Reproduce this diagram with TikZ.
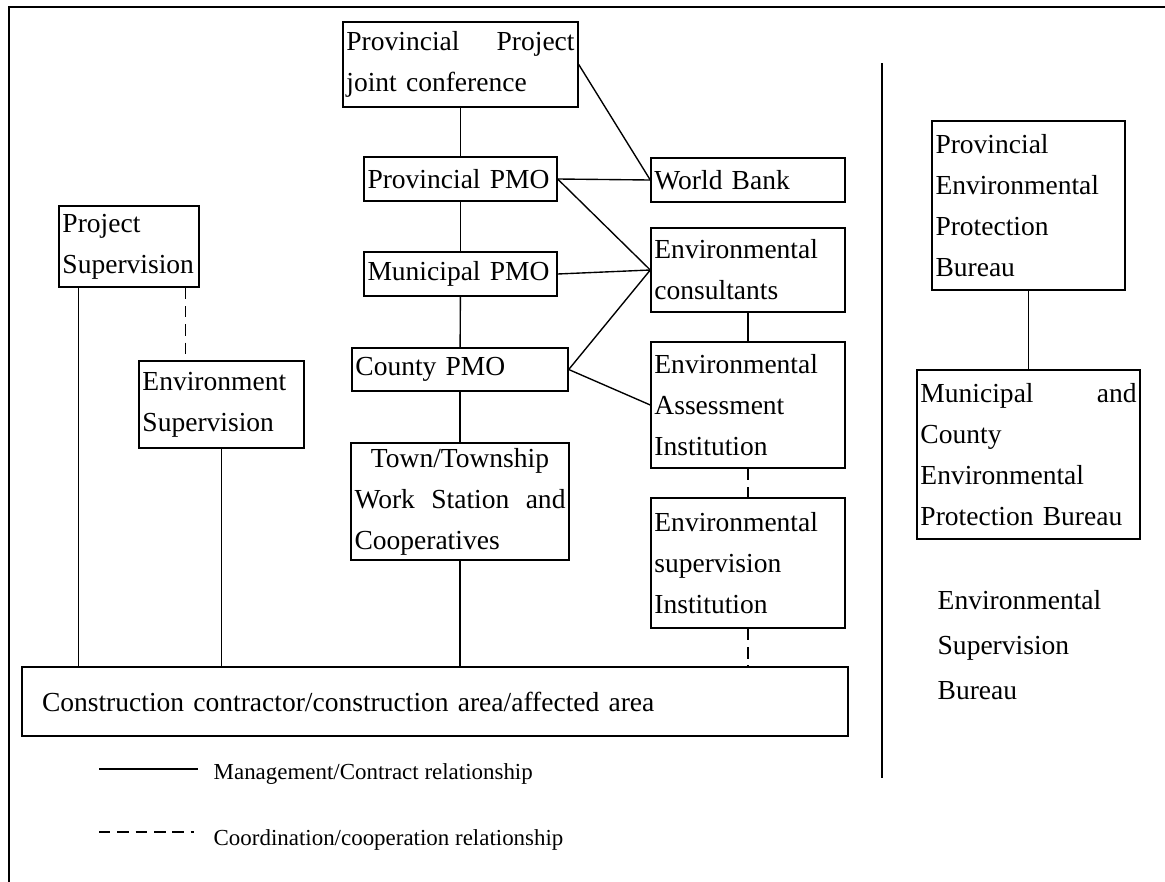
\documentclass[tikz,border=0pt]{standalone}
\usepackage{fontspec}
\setmainfont{Liberation Serif}
\tikzset{
    unit/.style={draw, line width=0.6pt, align=left, inner xsep=1.5pt, inner ysep=0pt,
        font=\fontsize{12}{17.9}\selectfont},
    coop/.style={dash pattern=on 5pt off 3pt},
    keytext/.style={anchor=west, inner sep=0pt, font=\fontsize{10}{12}\selectfont},
}
\begin{document}
\begin{tikzpicture}[x=0.436pt, y=-0.436pt, line width=0.6pt]
        \useasboundingbox (0,0) rectangle (1165,882);
        % frame and separator
        \draw (1165,7) -- (9,7) -- (9,882);
        \draw (882,63) -- (882,778);
        \begin{scope}[every node/.style={unit}]
            \node[minimum width=102.5pt, minimum height=37.1pt, text width=99.5pt] (conf) at (460.5, 64.5) {Provincial\hfill Project\\joint conference};
            \node[minimum width=84.1pt, minimum height=19.2pt, text width=81.1pt] (ppmo) at (460.5, 179) {Provincial PMO};
            \node[minimum width=84.1pt, minimum height=19.2pt, text width=81.1pt] (mpmo) at (460.5, 274) {Municipal PMO};
            \node[minimum width=94.2pt, minimum height=18.7pt, text width=91.2pt] (cpmo) at (460, 369.5) {County PMO};
            \node[minimum width=95pt, minimum height=51pt, text width=92pt] (town) at (460, 501.5) {\hfill Town/Township\hfill\null\\Work\hfill Station\hfill and\\Cooperatives};
            \node[minimum width=84.6pt, minimum height=19.2pt, text width=81.6pt] (wb) at (748, 180) {World Bank};
            \node[minimum width=84.6pt, minimum height=36.6pt, text width=81.6pt] (cons) at (748, 270) {Environmental\\consultants};
            \node[minimum width=84.6pt, minimum height=54.9pt, text width=81.6pt] (eai) at (748, 405) {Environmental\\Assessment\\Institution};
            \node[minimum width=84.6pt, minimum height=56.7pt, text width=81.6pt] (esi) at (748, 563) {Environmental\\supervision\\Institution};
            \node[minimum width=61pt, minimum height=35.3pt, text width=58pt] (ps) at (129, 246.5) {Project\\Supervision};
            \node[minimum width=71.9pt, minimum height=37.9pt, text width=68.9pt] (es) at (221.5, 404.5) {Environment\\Supervision};
            \node[minimum width=360.1pt, minimum height=30.1pt, inner xsep=8.7pt, text width=342.7pt] (cca) at (435, 701.5) {Construction contractor/construction area/affected area};
            \node[minimum width=84.1pt, minimum height=73.7pt, text width=81.1pt] (peb) at (1028.5, 205.5) {Provincial\\Environmental\\Protection\\Bureau};
            \node[minimum width=97.2pt, minimum height=73.7pt, text width=94.2pt] (mceb) at (1028.5, 454.5) {Municipal\hfill and\\County\\Environmental\\Protection Bureau};
            \node[draw=none, inner xsep=0pt, font=\fontsize{12}{19.8}\selectfont] (esb) at (937, 645) [anchor=west] {Environmental\\Supervision\\Bureau};
        \end{scope}
        \begin{scope}
            \path [-] (conf) edge (ppmo);
            \path [-] (ppmo) edge (mpmo);
            \path [-] (mpmo) edge (cpmo);
            \path [-] (cpmo) edge (town);
            \path [-] (conf.east) edge (wb.west);
            \path [-] (ppmo.east) edge (wb.west);
            \path [-] (ppmo.east) edge (cons.west);
            \path [-] (mpmo.east) edge (cons.west);
            \path [-] (cpmo.east) edge (cons.west);
            \path [-] (cpmo.east) edge (eai.west);
            \path [-] (cons) edge (eai);
            \path [-, coop] (eai) edge (esi);
            \path [-, coop] (esi.south) edge (esi.south |- cca.north);
            \path [-] (town.south) edge (town.south |- cca.north);
            \path [-] (es.south) edge (es.south |- cca.north);
            \path (ps.south west) ++(20,0) coordinate (psm);
            \path (ps.south west) ++(127,0) coordinate (psc);
            \path [-] (psm) edge (psm |- cca.north);
            \path [-, coop] (psc) edge (psc |- es.north);
            \path [-] (peb) edge (mceb);
        \end{scope}
        % key
        \draw (99,769) -- (198,769);
        \draw[coop] (99,832) -- (194,832);
        \node[keytext] (kman) at (213,774) {Management/Contract relationship};
        \node[keytext] (kcoop) at (213,840) {Coordination/cooperation relationship};
\end{tikzpicture}
\end{document}
